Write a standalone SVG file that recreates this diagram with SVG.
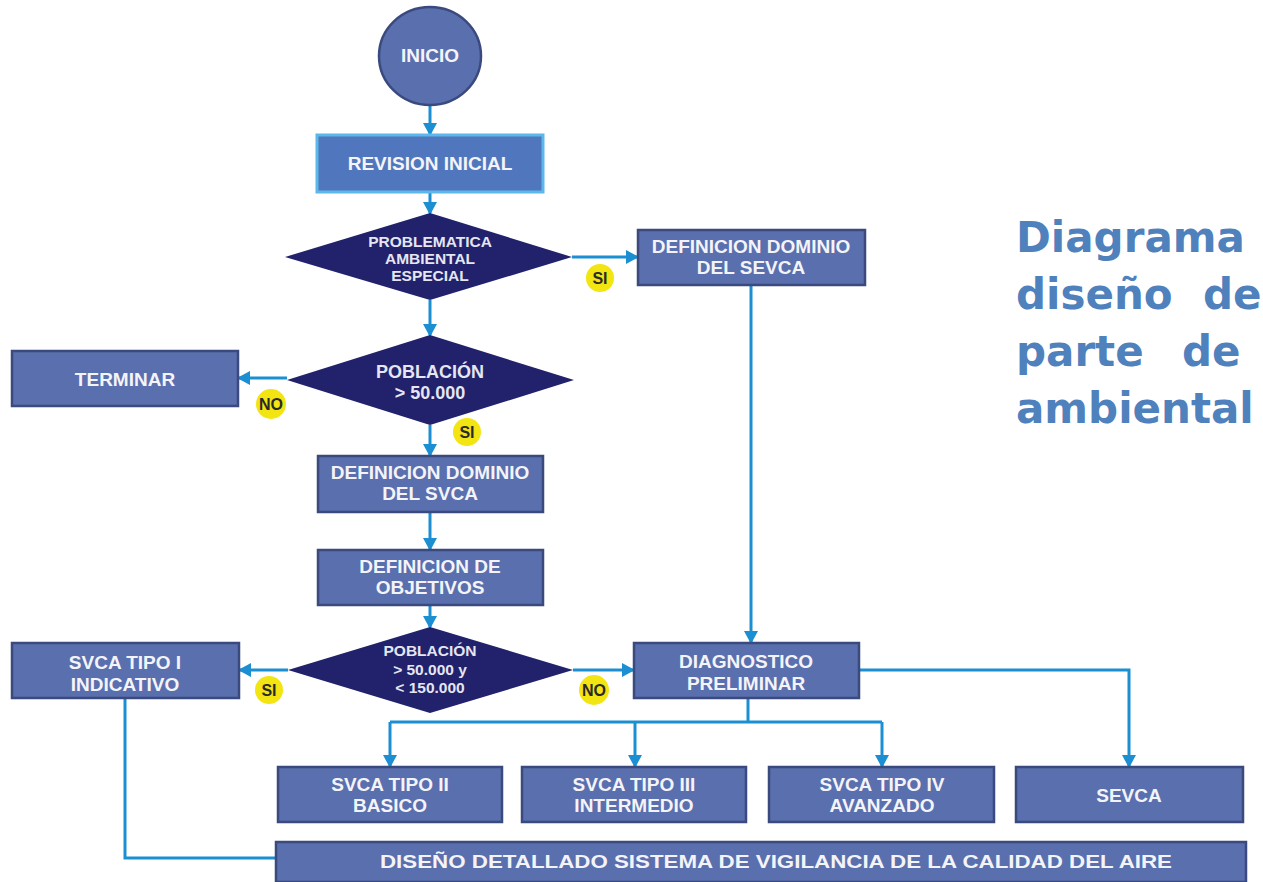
<svg xmlns="http://www.w3.org/2000/svg" width="1263" height="882" viewBox="0 0 1263 882">
<defs>
<marker id="ah" markerWidth="14" markerHeight="14" refX="11" refY="7" orient="auto" markerUnits="userSpaceOnUse">
<path d="M0,0 L13,7 L0,14 Z" fill="#1b8fd2"/>
</marker>
<style>
.box{fill:#5a6fae;stroke:#3b4a7e;stroke-width:2.5}
.rev{fill:#5077bd;stroke:#5cb8ea;stroke-width:3}
.dia{fill:#21226b}
.t{font-family:"Liberation Sans",Arial,sans-serif;font-weight:bold;fill:#f4f4f8;text-anchor:middle;font-size:19px}
.td{font-family:"Liberation Sans",Arial,sans-serif;font-weight:bold;fill:#e6e6f2;text-anchor:middle}
.c{fill:none;stroke:#1b8fd2;stroke-width:3}
.b{fill:#f3e512}
.bt{font-family:"Liberation Sans",Arial,sans-serif;font-weight:bold;fill:#2a2a2a;text-anchor:middle;font-size:16px}
.title{font-family:"DejaVu Sans",Verdana,sans-serif;font-weight:bold;fill:#4f81bd;font-size:42px}
</style>
</defs>
<rect width="1263" height="882" fill="#ffffff"/>

<g id="connectors">
<path class="c" d="M430,106 V134" marker-end="url(#ah)"/>
<path class="c" d="M430,192 V213" marker-end="url(#ah)"/>
<path class="c" d="M572,257 H637" marker-end="url(#ah)"/>
<path class="c" d="M430,300 V335" marker-end="url(#ah)"/>
<path class="c" d="M287,378 H239" marker-end="url(#ah)"/>
<path class="c" d="M430,425 V455" marker-end="url(#ah)"/>
<path class="c" d="M430,512 V549" marker-end="url(#ah)"/>
<path class="c" d="M430,605 V627" marker-end="url(#ah)"/>
<path class="c" d="M288,670 H240" marker-end="url(#ah)"/>
<path class="c" d="M573,670 H633" marker-end="url(#ah)"/>
<path class="c" d="M751,285 V642" marker-end="url(#ah)"/>
<path class="c" d="M859,670 H1129 V766" marker-end="url(#ah)"/>
<path class="c" d="M748,698 V722"/>
<path class="c" d="M390,722 H882"/>
<path class="c" d="M390,722 V766" marker-end="url(#ah)"/>
<path class="c" d="M635,722 V766" marker-end="url(#ah)"/>
<path class="c" d="M882,722 V766" marker-end="url(#ah)"/>
<path class="c" d="M125,698 V858 H277"/>
</g>

<g id="inicio">
<ellipse cx="430" cy="56" rx="51" ry="49" fill="#5a6fae" stroke="#3b4a7e" stroke-width="2.5"/>
<text class="t" x="430" y="62" font-size="17">INICIO</text>
</g>

<g id="revision">
<rect class="rev" x="317" y="135" width="226" height="57"/>
<text class="t" x="430" y="170">REVISION INICIAL</text>
</g>

<g id="problematica">
<polygon class="dia" points="430,213 572,257 430,300 285,257"/>
<text class="td" x="430" y="247" font-size="15.5">PROBLEMATICA</text>
<text class="td" x="430" y="264" font-size="15.5">AMBIENTAL</text>
<text class="td" x="430" y="281" font-size="15.5">ESPECIAL</text>
</g>

<g id="dominio-sevca">
<rect class="box" x="638" y="230" width="227" height="55"/>
<text class="t" x="751" y="253">DEFINICION DOMINIO</text>
<text class="t" x="751" y="274">DEL SEVCA</text>
</g>

<g id="poblacion1">
<polygon class="dia" points="430,335 574,380 430,425 287,380"/>
<text class="td" x="430" y="378" font-size="18">POBLACIÓN</text>
<text class="td" x="430" y="399" font-size="18">&gt; 50.000</text>
</g>

<g id="terminar">
<rect class="box" x="12" y="351" width="226" height="55"/>
<text class="t" x="125" y="386">TERMINAR</text>
</g>

<g id="dominio-svca">
<rect class="box" x="318" y="456" width="225" height="56"/>
<text class="t" x="430" y="479">DEFINICION DOMINIO</text>
<text class="t" x="430" y="500">DEL SVCA</text>
</g>

<g id="objetivos">
<rect class="box" x="318" y="550" width="225" height="55"/>
<text class="t" x="430" y="573">DEFINICION DE</text>
<text class="t" x="430" y="594">OBJETIVOS</text>
</g>

<g id="poblacion2">
<polygon class="dia" points="430,627 573,670 430,713 288,670"/>
<text class="td" x="430" y="656" font-size="15.5">POBLACIÓN</text>
<text class="td" x="430" y="675" font-size="15.5">&gt; 50.000 y</text>
<text class="td" x="430" y="693" font-size="15.5">&lt; 150.000</text>
</g>

<g id="tipo1">
<rect class="box" x="12" y="643" width="227" height="55"/>
<text class="t" x="125" y="669">SVCA TIPO I</text>
<text class="t" x="125" y="691">INDICATIVO</text>
</g>

<g id="diagnostico">
<rect class="box" x="634" y="643" width="225" height="55"/>
<text class="t" x="746" y="668">DIAGNOSTICO</text>
<text class="t" x="746" y="690">PRELIMINAR</text>
</g>

<g id="tipo2">
<rect class="box" x="278" y="767" width="224" height="55"/>
<text class="t" x="390" y="791">SVCA TIPO II</text>
<text class="t" x="390" y="812">BASICO</text>
</g>

<g id="tipo3">
<rect class="box" x="522" y="767" width="224" height="55"/>
<text class="t" x="634" y="791">SVCA TIPO III</text>
<text class="t" x="634" y="812">INTERMEDIO</text>
</g>

<g id="tipo4">
<rect class="box" x="769" y="767" width="225" height="55"/>
<text class="t" x="882" y="791">SVCA TIPO IV</text>
<text class="t" x="882" y="812">AVANZADO</text>
</g>

<g id="sevca">
<rect class="box" x="1016" y="767" width="227" height="55"/>
<text class="t" x="1129" y="802">SEVCA</text>
</g>

<g id="diseno">
<rect class="box" x="276" y="842" width="970" height="40"/>
<text class="t" x="776" y="868" textLength="792" lengthAdjust="spacingAndGlyphs">DISEÑO DETALLADO SISTEMA DE VIGILANCIA DE LA CALIDAD DEL AIRE</text>
</g>

<g id="badges">
<circle class="b" cx="600" cy="278" r="14"/><text class="bt" x="600" y="284">SI</text>
<circle class="b" cx="271" cy="404" r="15"/><text class="bt" x="271" y="410">NO</text>
<circle class="b" cx="467" cy="432" r="14"/><text class="bt" x="467" y="438">SI</text>
<circle class="b" cx="269" cy="690" r="14"/><text class="bt" x="269" y="696">SI</text>
<circle class="b" cx="594" cy="690" r="15"/><text class="bt" x="594" y="696">NO</text>
</g>

<g id="title">
<text class="title" x="1016" y="252">Diagrama</text>
<text class="title" x="1016" y="309">diseño</text>
<text class="title" x="1203" y="309">de</text>
<text class="title" x="1016" y="366">parte</text>
<text class="title" x="1182" y="366">de</text>
<text class="title" x="1016" y="423">ambiental</text>
</g>
</svg>
